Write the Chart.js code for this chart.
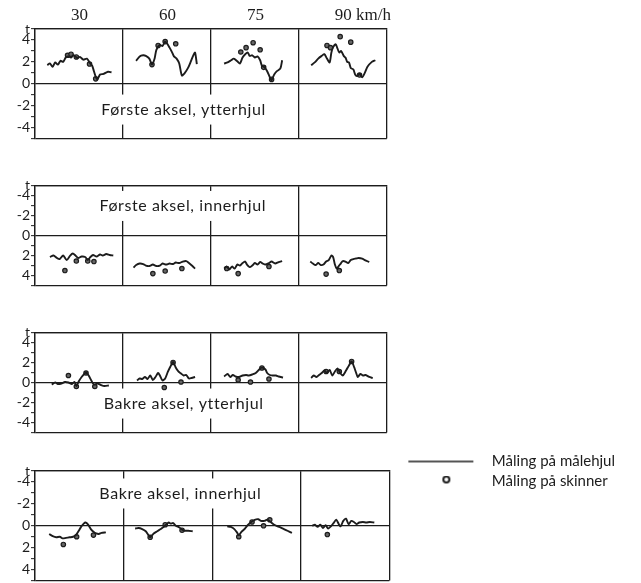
<!DOCTYPE html>
<html>
<head>
<meta charset="utf-8">
<script src="https://cdn.jsdelivr.net/npm/chart.js@4.4.1/dist/chart.umd.min.js"></script>
<style>
  html, body { margin: 0; padding: 0; background: #fff; overflow: hidden; }
  body { width: 641px; height: 583px; position: relative; }
  canvas { position: absolute; left: 0; }
</style>
</head>
<body>
<canvas id="p1" width="392" height="148" style="top:0px"></canvas>
<canvas id="p2" width="392" height="119" style="top:176px"></canvas>
<canvas id="p3" width="392" height="119" style="top:323px"></canvas>
<canvas id="p4" width="641" height="141" style="top:449px"></canvas>
<script>
// speed columns, km/h
const speeds = ['30', '60', '75', '90 km/h'];

// each column: [position in column (0-1), t]
// Første aksel, ytterhjul
let fy_line = [
    [[0.14,1.7],[0.17,1.85],[0.20,1.55],[0.23,1.95],[0.26,1.75],[0.29,2.1],[0.32,2.0],[0.35,2.4],[0.38,2.5],[0.41,2.4],[0.44,2.6],[0.48,2.35],[0.51,2.45],[0.55,2.2],[0.59,2.3],[0.62,1.95],[0.65,1.65],[0.67,1.15],[0.69,0.65],[0.71,0.4],[0.74,0.85],[0.78,0.9],[0.83,1.1],[0.87,1.05]],
    [[0.15,2.1],[0.19,2.5],[0.23,2.6],[0.26,2.55],[0.30,2.3],[0.33,1.75],[0.36,2.3],[0.38,3.1],[0.42,3.55],[0.45,3.45],[0.48,3.85],[0.50,3.7],[0.53,3.3],[0.56,2.85],[0.58,2.5],[0.61,2.3],[0.64,1.85],[0.67,0.75],[0.70,0.95],[0.74,1.45],[0.77,2.0],[0.80,2.6],[0.82,2.85],[0.84,1.8]],
    [[0.15,1.85],[0.19,1.95],[0.23,2.15],[0.26,2.3],[0.30,2.05],[0.33,1.85],[0.36,2.4],[0.39,2.7],[0.42,2.85],[0.44,2.55],[0.47,2.6],[0.50,2.4],[0.53,2.5],[0.56,2.15],[0.58,1.65],[0.61,1.5],[0.64,1.15],[0.67,0.6],[0.69,0.35],[0.72,0.85],[0.75,1.15],[0.79,1.4],[0.81,2.15]],
    [[0.14,1.7],[0.18,1.95],[0.22,2.3],[0.26,2.55],[0.29,2.7],[0.32,2.3],[0.35,1.95],[0.37,2.85],[0.39,3.35],[0.42,3.6],[0.44,3.2],[0.46,2.85],[0.48,3.0],[0.51,2.55],[0.53,2.4],[0.55,2.0],[0.57,1.95],[0.59,1.45],[0.62,1.3],[0.64,0.85],[0.66,0.7],[0.69,0.9],[0.72,0.6],[0.75,1.0],[0.78,1.55],[0.83,2.0],[0.87,2.15]]
];
let fy_pts = [
    [[0.37,2.6],[0.41,2.7],[0.47,2.45],[0.62,1.8],[0.69,0.45]],
    [[0.33,1.75],[0.40,3.5],[0.48,3.85],[0.60,3.65]],
    [[0.34,2.9],[0.40,3.3],[0.48,3.75],[0.56,3.1],[0.60,1.5],[0.69,0.4]],
    [[0.32,3.5],[0.36,3.3],[0.47,4.3],[0.59,3.8],[0.69,0.8]]
];

// Første aksel, innerhjul
let fi_line = [
    [[0.17,2.15],[0.21,2.0],[0.25,2.25],[0.28,2.35],[0.32,2.0],[0.36,2.45],[0.40,2.0],[0.43,1.8],[0.46,2.0],[0.49,2.25],[0.53,2.1],[0.57,2.15],[0.60,2.45],[0.63,2.15],[0.66,1.95],[0.70,2.1],[0.74,1.9],[0.77,2.0],[0.81,1.85],[0.85,1.95],[0.89,2.0]],
    [[0.12,3.2],[0.15,2.95],[0.19,2.8],[0.23,2.85],[0.26,3.0],[0.30,3.05],[0.34,2.9],[0.38,3.05],[0.42,3.0],[0.45,2.8],[0.49,2.9],[0.53,2.8],[0.57,2.85],[0.60,2.7],[0.64,2.75],[0.68,2.6],[0.72,2.55],[0.75,2.75],[0.79,3.05],[0.82,3.3]],
    [[0.15,3.3],[0.18,3.1],[0.21,3.4],[0.24,3.1],[0.27,3.3],[0.30,2.9],[0.33,3.0],[0.36,2.75],[0.39,2.6],[0.41,2.9],[0.44,3.15],[0.47,3.0],[0.50,2.75],[0.53,2.9],[0.56,2.65],[0.59,2.8],[0.62,2.9],[0.66,2.75],[0.69,2.6],[0.73,2.8],[0.77,2.65],[0.81,2.55]],
    [[0.13,2.6],[0.16,2.8],[0.19,2.95],[0.22,2.75],[0.25,2.95],[0.28,2.9],[0.31,2.6],[0.34,2.45],[0.37,2.0],[0.39,2.15],[0.41,2.9],[0.43,3.3],[0.45,3.1],[0.48,2.75],[0.50,2.55],[0.53,2.6],[0.56,2.75],[0.59,2.45],[0.62,2.35],[0.65,2.3],[0.68,2.25],[0.72,2.3],[0.75,2.45],[0.80,2.65]]
];
let fi_pts = [
    [[0.34,3.5],[0.47,2.55],[0.60,2.55],[0.67,2.6]],
    [[0.34,3.8],[0.48,3.55],[0.67,3.3]],
    [[0.18,3.3],[0.31,3.8],[0.66,3.1]],
    [[0.31,3.85],[0.46,3.5]]
];

// Bakre aksel, ytterhjul
let by_line = [
    [[0.19,-0.2],[0.23,0],[0.26,-0.15],[0.30,-0.1],[0.34,0.05],[0.38,0],[0.42,-0.15],[0.45,0.05],[0.47,-0.35],[0.50,0.15],[0.53,0.55],[0.56,0.85],[0.58,1.0],[0.61,0.7],[0.64,0.2],[0.67,-0.2],[0.71,-0.1],[0.75,-0.25],[0.79,-0.35],[0.84,-0.3]],
    [[0.16,0.2],[0.19,0.4],[0.22,0.35],[0.25,0.55],[0.28,0.35],[0.31,0.7],[0.34,0.25],[0.37,0.55],[0.40,0.95],[0.42,0.7],[0.45,0.2],[0.48,0.4],[0.51,1.05],[0.54,1.6],[0.57,2.05],[0.60,1.5],[0.63,1.1],[0.66,0.9],[0.69,0.7],[0.72,0.75],[0.75,0.4],[0.78,0.45],[0.82,0.55]],
    [[0.15,0.6],[0.19,0.85],[0.22,0.55],[0.25,0.75],[0.28,0.6],[0.32,0.55],[0.36,0.7],[0.40,0.75],[0.43,0.7],[0.47,0.8],[0.51,0.95],[0.55,1.3],[0.58,1.5],[0.62,1.3],[0.64,0.95],[0.67,0.75],[0.70,0.7],[0.74,0.7],[0.77,0.6],[0.82,0.5]],
    [[0.14,0.45],[0.17,0.7],[0.20,0.55],[0.23,0.75],[0.26,0.95],[0.29,1.2],[0.32,0.95],[0.35,1.25],[0.38,0.7],[0.41,1.1],[0.44,1.4],[0.47,0.95],[0.50,0.7],[0.54,1.25],[0.57,1.7],[0.60,2.1],[0.63,1.5],[0.65,1.0],[0.67,0.55],[0.70,0.85],[0.73,0.7],[0.76,0.75],[0.80,0.55],[0.84,0.45]]
];
let by_pts = [
    [[0.38,0.7],[0.47,-0.4],[0.58,0.95],[0.68,-0.4]],
    [[0.47,-0.5],[0.57,2.0],[0.66,0.05]],
    [[0.31,0.25],[0.45,0.05],[0.58,1.45],[0.66,0.35]],
    [[0.31,1.1],[0.46,1.1],[0.60,2.1]]
];

// Bakre aksel, innerhjul
let bi_line = [
    [[0.16,0.75],[0.20,0.95],[0.24,1.05],[0.28,1.0],[0.31,1.15],[0.35,1.1],[0.39,1.05],[0.43,1.0],[0.46,0.85],[0.49,0.5],[0.52,0.1],[0.55,-0.2],[0.57,-0.3],[0.60,-0.1],[0.63,0.3],[0.66,0.55],[0.69,0.7],[0.72,0.75],[0.75,0.65],[0.80,0.6]],
    [[0.13,0.25],[0.17,0.2],[0.21,0.3],[0.25,0.5],[0.28,0.85],[0.30,1.05],[0.34,0.7],[0.38,0.5],[0.42,0.3],[0.45,0.1],[0.48,-0.1],[0.51,-0.3],[0.53,-0.2],[0.56,-0.25],[0.59,0],[0.63,0.15],[0.66,0.35],[0.69,0.45],[0.73,0.45],[0.78,0.5]],
    [[0.17,0.05],[0.21,0.1],[0.25,0.3],[0.28,0.6],[0.30,0.85],[0.33,0.55],[0.37,0.25],[0.40,-0.05],[0.44,-0.35],[0.48,-0.55],[0.52,-0.6],[0.55,-0.45],[0.59,-0.45],[0.62,-0.55],[0.66,-0.35],[0.70,-0.1],[0.74,0.05],[0.77,0.15],[0.81,0.3],[0.85,0.45],[0.90,0.65]],
    [[0.13,0.0],[0.16,-0.1],[0.19,0.1],[0.22,-0.1],[0.25,0.2],[0.28,-0.05],[0.31,0.25],[0.34,0.05],[0.37,-0.25],[0.40,-0.55],[0.43,-0.15],[0.45,0.05],[0.48,-0.45],[0.51,-0.65],[0.54,-0.15],[0.57,-0.45],[0.60,-0.35],[0.63,-0.15],[0.66,-0.3],[0.70,-0.35],[0.74,-0.3],[0.78,-0.35],[0.83,-0.3]]
];
let bi_pts = [
    [[0.32,1.7],[0.47,1.0],[0.66,0.85]],
    [[0.30,1.05],[0.47,-0.1],[0.66,0.4]],
    [[0.30,1.0],[0.45,-0.35],[0.58,0],[0.65,-0.55]],
    [[0.30,0.8]]
];

const ink = '#1c1c1c';
const sans = 'Lato';
const legendFont = { family: sans, size: 15 };

// columns side by side on one x axis, gap between columns
function toLine(cols) {
    let out = [];
    cols.forEach((col, i) => {
        col.forEach(p => out.push({ x: i + p[0], y: p[1] }));
        out.push({ x: i + 1, y: null });
    });
    return out;
}
function toPts(cols) {
    let out = [];
    cols.forEach((col, i) => col.forEach(p => out.push({ x: i + p[0], y: p[1] })));
    return out;
}

// panel name, with white box that breaks the column lines
const panelLabel = {
    id: 'panelLabel',
    beforeDatasetsDraw(chart, args, opts) {
        if (!opts.text) return;
        const ctx = chart.ctx;
        const x = chart.scales.x.getPixelForValue(opts.x);
        const y = chart.scales.y.getPixelForValue(opts.y);
        ctx.save();
        ctx.font = '16px ' + sans;
        ctx.letterSpacing = '0.6px';
        const w = ctx.measureText(opts.text).width;
        ctx.fillStyle = '#fff';
        ctx.fillRect(x - w / 2 - 4, y - 15, w + 8, 30);
        ctx.fillStyle = ink;
        ctx.textAlign = 'center';
        ctx.textBaseline = 'middle';
        ctx.fillText(opts.text, x, y);
        ctx.restore();
    }
};

function legendIcon(kind) {
    const c = document.createElement('canvas');
    c.width = 90;
    c.height = 12;
    const g = c.getContext('2d');
    g.strokeStyle = ink;
    g.beginPath();
    if (kind === 'line') {
        g.lineWidth = 1.3;
        g.moveTo(14, 6);
        g.lineTo(79, 6);
    } else {
        g.lineWidth = 2;
        g.arc(52, 4, 3, 0, Math.PI * 2);
    }
    g.stroke();
    return c;
}
const legendIcons = [legendIcon('line'), legendIcon('dot')];

// legend width as Chart.js measures it, so the plot keeps its right edge at 389
const measure = document.createElement('canvas').getContext('2d');
measure.font = legendFont.size + 'px ' + legendFont.family;
const legendW = Math.ceil(5 + 90 + legendFont.size / 2 + measure.measureText('Måling på målehjul').width + 10);

function makePanel(id, line, pts, o) {
    const top = o.reverse ? -5 : 5;
    return new Chart(document.getElementById(id), {
        type: 'line',
        data: {
            datasets: [{
                label: 'Måling på målehjul',
                data: toLine(line),
                borderColor: ink,
                borderWidth: 1.9,
                pointRadius: 0,
                tension: 0.25,
                spanGaps: false,
                fill: false
            }, {
                label: 'Måling på skinner',
                data: toPts(pts),
                showLine: false,
                pointRadius: 2.2,
                pointBorderWidth: 1.2,
                pointBorderColor: ink,
                pointBackgroundColor: '#666'
            }]
        },
        options: {
            responsive: false,
            animation: false,
            events: [],
            layout: { padding: { left: 0, top: 0, right: o.padRight, bottom: 2 } },
            scales: {
                x: {
                    type: 'linear',
                    position: 'top',
                    min: 0,
                    max: 4,
                    afterFit: s => { s.height = o.topH; },
                    border: { color: ink, width: 1.3 },
                    grid: { color: ink, lineWidth: 1.3, drawTicks: false },
                    ticks: {
                        display: o.speeds,
                        stepSize: 1,
                        autoSkip: false,
                        maxRotation: 0,
                        align: 'start',
                        labelOffset: 36,
                        padding: 3,
                        color: ink,
                        font: { family: 'Liberation Serif', size: 17 },
                        callback: v => speeds[v] || ''
                    }
                },
                y: {
                    min: -5,
                    max: 5,
                    reverse: o.reverse,
                    afterFit: s => { s.width = 35; },
                    border: { color: ink, width: 1.3 },
                    grid: {
                        color: c => (c.tick && (c.tick.value === 0 || Math.abs(c.tick.value) === 5)) ? ink : 'rgba(0,0,0,0)',
                        lineWidth: 1.3,
                        tickColor: ink,
                        tickLength: 4,
                        tickWidth: 1
                    },
                    ticks: {
                        stepSize: 1,
                        autoSkip: false,
                        padding: 1,
                        color: ink,
                        font: { family: sans, size: 14 },
                        callback: v => v === top ? 't' : (v % 2 === 0 && Math.abs(v) < 5 ? String(v) : '')
                    }
                }
            },
            plugins: {
                tooltip: { enabled: false },
                panelLabel: o.label,
                legend: o.legend ? {
                    display: true,
                    position: 'right',
                    align: 'start',
                    maxWidth: 252,
                    labels: {
                        usePointStyle: true,
                        pointStyleWidth: 90,
                        padding: 5,
                        color: ink,
                        font: legendFont,
                        generateLabels: chart => chart.data.datasets.map((ds, i) => ({
                            text: ds.label,
                            pointStyle: legendIcons[i],
                            fillStyle: ink,
                            strokeStyle: ink,
                            lineWidth: 0,
                            fontColor: ink,
                            datasetIndex: i,
                            hidden: false
                        }))
                    }
                } : { display: false }
            }
        },
        plugins: [panelLabel]
    });
}

makePanel('p1', fy_line, fy_pts, { reverse: false, topH: 29, speeds: true, padRight: 3, legend: false,
    label: { text: 'Første aksel, ytterhjul', x: 1.69, y: -2.35 } });
makePanel('p2', fi_line, fi_pts, { reverse: true, topH: 0, speeds: false, padRight: 3, legend: false,
    label: { text: 'Første aksel, innerhjul', x: 1.68, y: -2.95 } });
makePanel('p3', by_line, by_pts, { reverse: false, topH: 0, speeds: false, padRight: 3, legend: false,
    label: { text: 'Bakre aksel, ytterhjul', x: 1.69, y: -2.1 } });
makePanel('p4', bi_line, bi_pts, { reverse: true, topH: 22, speeds: false, padRight: Math.max(0, 252 - legendW), legend: true,
    label: { text: 'Bakre aksel, innerhjul', x: 1.64, y: -2.95 } });
</script>
</body>
</html>
